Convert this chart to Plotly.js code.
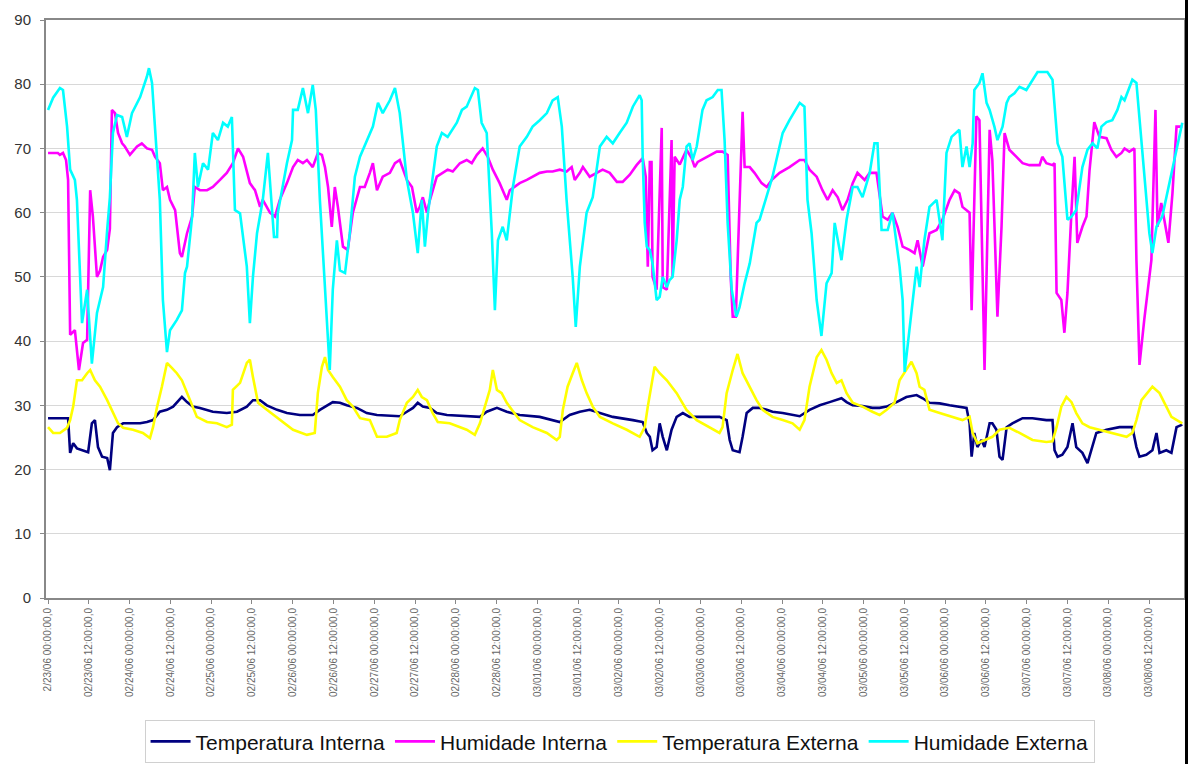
<!DOCTYPE html>
<html>
<head>
<meta charset="utf-8">
<script src="https://cdn.plot.ly/plotly-3.0.1.min.js"></script>
<style>
html,body{margin:0;padding:0;background:#fff;}
#chart{width:1188px;height:764px;}
#edge{position:absolute;top:0;right:0;width:3px;height:764px;background:#000;}
</style>
</head>
<body>
<div id="chart"></div>
<div id="edge"></div>
<script>
// x values are hours since 2/23/06 00:00
const tickHours = [0,12,24,36,48,60,72,84,96,108,120,132,144,156,168,180,192,204,216,228,240,252,264,276,288,300,312,324];
const tickLabels = [
"2/23/06 00:00:00,0","02/23/06 12:00:00,0","02/24/06 00:00:00,0","02/24/06 12:00:00,0",
"02/25/06 00:00:00,0","02/25/06 12:00:00,0","02/26/06 00:00:00,0","02/26/06 12:00:00,0",
"02/27/06 00:00:00,0","02/27/06 12:00:00,0","02/28/06 00:00:00,0","02/28/06 12:00:00,0",
"03/01/06 00:00:00,0","03/01/06 12:00:00,0","03/02/06 00:00:00,0","03/02/06 12:00:00,0",
"03/03/06 00:00:00,0","03/03/06 12:00:00,0","03/04/06 00:00:00,0","03/04/06 12:00:00,0",
"03/05/06 00:00:00,0","03/05/06 12:00:00,0","03/06/06 00:00:00,0","03/06/06 12:00:00,0",
"03/07/06 00:00:00,0","03/07/06 12:00:00,0","03/08/06 00:00:00,0","03/08/06 12:00:00,0"];

const seriesNames = ["Temperatura Interna","Humidade Interna","Temperatura Externa","Humidade Externa"];

// Temperatura Interna
const tiHours = [0,5.9,6.5,7.4,8.5,10.3,11.8,12.9,13.8,14.7,15.9,17.4,18.2,19.1,20.3,22.1,27.1,29.1,30.9,32.9,35,36.8,37.9,39.4,40.9,42.6,44.7,48.5,52.6,55.6,58.5,60.3,62.4,64.4,67.4,70.3,74.1,77.9,80,82.1,83.8,85.9,87.9,90.9,93.8,96.8,103.5,105.6,107.4,108.8,110.3,112.4,114.4,117.4,123.2,127.1,129.1,132.1,135,138.8,144.7,148.5,150.6,153.5,156.5,159.4,162.4,166.2,172.1,175,176.2,177.1,177.9,179.1,180,180.9,182.1,183.5,185,186.8,188.8,197.6,199.7,200.6,201.5,203.5,204.4,205.6,207.4,209.4,211.5,213.2,216.2,221.2,224.1,227.1,230,233.5,235,236.8,239.7,242.6,244.7,246.8,249.7,252.6,255.6,257.4,259.4,262.4,265.3,268.2,270.3,271.2,271.8,272.6,273.5,274.7,275.6,277.1,277.9,279.1,280,280.9,282.1,283.8,286.8,289.7,293.8,295.6,296.2,297.1,298.5,300,301.5,302.6,304.4,305.9,307.1,308.5,311.5,315.3,319.1,320.3,321.2,323.2,325,326.2,327.1,329.1,330.6,332.1,333.8];
const tiValues = [28,28,22.6,24.1,23.3,23,22.7,27.2,27.7,23.5,22,21.8,19.9,25.7,26.6,27.2,27.2,27.4,27.7,29,29.3,29.8,30.5,31.3,30.5,29.8,29.6,29,28.8,29,29.8,30.8,30.8,30,29.3,28.8,28.5,28.5,29.3,30,30.5,30.4,30,29.6,28.8,28.5,28.3,29,29.6,30.4,29.8,29.6,28.8,28.5,28.3,28.2,29,29.6,29,28.5,28.2,27.7,27.4,28.5,29,29.3,28.8,28.2,27.7,27.4,25.7,25.1,23,23.5,27.2,25.1,23,26.2,28.2,28.8,28.2,28.2,27.7,24.6,23,22.7,25.1,28.8,29.6,29.6,29.3,29,28.8,28.3,29.3,30,30.5,31.1,30.5,30,29.9,29.6,29.6,29.8,30.5,31.3,31.6,31.1,30.4,30.3,30,29.8,29.6,27.2,22,25.7,23.5,24.6,23.5,27.2,27.2,26.2,22,21.5,26.6,27.2,28,28,27.7,27.7,23,22,22.3,23.5,27.2,23.5,22.6,21,23,25.7,26.2,26.6,26.6,23.5,22,22.3,23,25.7,22.6,23,22.6,26.6,27];

// Humidade Interna
const hiHours = [0,2.9,3.5,4.4,5.3,5.9,6.5,7.9,9.1,10.3,11.5,12.4,13.2,14.4,15.3,16.2,17.4,18.2,18.8,19.7,20.6,21.8,22.6,24.1,26.2,27.6,29.1,30.6,31.5,32.9,33.8,35,35.9,37.4,38.8,39.4,40.9,42.4,43.2,44.7,46.8,48.5,50.6,52.6,54.4,55.9,57.4,59.4,60.9,62.4,63.2,65.3,66.8,68.2,70.3,72.1,73.5,75,76.2,77.9,79.4,80.6,81.5,82.4,83.5,84.4,85.3,86.8,88.2,89.7,91.8,93.2,94.7,95.6,96.8,98.5,100.6,102.1,103.5,105.6,107.1,108.5,109.4,110.3,111.5,112.4,114.4,116.2,117.6,119.1,121.2,123.2,124.7,126.2,127.9,129.4,130.9,132.9,133.8,135,135.9,137.4,138.8,140.9,142.6,144.7,146.8,148.5,150.6,152.6,154.1,155,156.5,157.4,159.4,161.5,163.2,165.3,167.4,169.1,171.2,173.2,175,175.9,176.5,177.1,177.6,177.9,179.1,180.6,180.9,182.1,183.5,183.8,184.4,185.9,186.8,187.9,189.4,190.3,191.2,193.8,196.8,198.5,200,200.9,201.5,202.4,204.4,205,206.5,207.9,209.4,210,211.5,213,215.3,218.2,221.2,222.6,224.1,226.2,227.9,229.4,230.9,232.4,233.8,235.3,236.8,238.2,240.3,241.8,243.8,245.6,247.1,248.5,250,251.5,253.5,255,255.9,257.4,259.4,261.5,263.2,265.3,266.8,268.2,269.1,270.3,271.2,271.8,272.4,273.2,274.1,275.6,277.1,277.9,279.4,280.6,281.5,282.9,285,286.8,288.8,291.8,292.6,293.8,295.6,296.2,296.8,298.2,299.1,300,301.2,302.1,302.9,304.4,305.6,306.5,307.9,309.4,311.5,312.9,314.4,315.9,316.8,318.2,319.7,320.3,321.2,322.6,324.7,325.9,326.5,327.6,328.5,329.7,330.9,332.1,333.8];
const hiValues = [69.3,69.3,69,69.3,68.2,65.1,41,41.7,35.5,39.7,40.2,63.5,59.4,50,51,53.1,54.2,57.5,76,75.5,72.4,70.8,70.3,69,70.3,70.8,70,69.8,68.7,67.7,63.5,64,62,60.4,53.7,53.1,56.8,59.4,64,63.5,63.5,64,65.1,66.2,67.7,70,68.7,64.6,63.5,60.9,62,60,59.4,62,64.6,67.1,68.2,67.7,68.2,67.1,69.3,69,67.1,64,57.8,64,60.9,54.7,54.2,60,64,64,66.2,67.7,63.5,65.6,66.2,67.7,68.2,65.1,64,60,60.9,62.4,60,62,65.6,66.2,66.7,66.4,67.7,68.2,67.7,69,70,68.7,66.7,64.6,63.5,62,63.5,64,64.6,65.1,65.6,66.2,66.4,66.4,66.7,66.4,67.1,65.1,66.2,67.1,65.6,66.2,66.7,66.2,64.8,64.8,65.9,67.4,68.5,65.6,51.6,67.9,67.9,50,48,73.2,48.4,48,71.3,50,68.7,67.5,68.5,69.8,68.5,67.1,67.9,68.7,69.5,69.5,69,50,43.8,43.8,75.7,67.1,67.1,66.2,65.1,64.6,64,65.1,66.2,67.1,68.2,68.2,66.7,65.6,63.5,62,63.5,62.4,60.4,62,64.6,66.2,65.1,66.2,66.2,59.4,58.9,60,57.8,54.7,54.2,53.7,55.7,51.6,56.8,57.3,58.9,62,63.5,63,60.9,60.4,60,44.8,60,75,74.4,35.5,72.9,68.2,43.8,57.8,72.4,69.8,68.7,67.7,67.4,67.4,68.7,67.7,67.4,67.7,47.5,46.4,41.3,47.5,60.4,68.7,55.3,57.8,59.4,66.6,74.1,71.8,71.6,69.8,68.7,69.3,70,69.5,70,52.6,36.3,43.3,52.6,76,57.8,61.5,58.9,55.3,63,73.4,73.4];

// Temperatura Externa
const teHours = [0,1.5,3.5,5.6,6.5,7.4,8.5,10,11.5,12.4,13.8,15.3,17.4,19.1,20.6,22.1,25,27.9,30,30.9,32.1,33.5,35,36.5,37.9,39.4,40.9,42.4,43.8,46.8,49.7,52.6,54.1,54.4,56.5,58.5,59.4,60.3,61.8,64.4,68.2,72.1,76.2,78.5,79.4,80.6,81.5,82.4,83.8,85.9,87.9,89.7,91.8,94.7,96.8,99.7,102.6,103.5,105.6,107.4,108.8,110,111.5,113.2,114.7,118.2,123.2,125.6,127.1,128.5,130,130.9,132.1,133.5,135,136.5,138.8,142.6,146.8,149.7,150.6,151.5,152.9,154.4,155.6,157.1,158.5,160.3,162.4,166.2,170.3,174.1,175.6,176.5,177.6,178.5,180,182.1,185,187.9,190.9,194.7,197.6,198.5,199.7,201.5,202.9,204.4,206.5,208.5,210.3,213.2,216.2,219.1,221.2,222.6,224.1,226.2,227.6,229.1,230.6,232.1,233.5,235,236.8,239.7,242.6,244.7,246.8,249.1,250.6,252.6,254.1,255.6,256.5,257.9,259.4,262.4,266.2,269.1,271.2,272.1,273.5,275.6,277.9,280,282.9,285.9,289.7,293.8,295.6,296.8,298.2,299.7,301.2,302.6,304.4,306.5,309.4,313.2,317.4,319.1,320.3,321.8,325,327.1,329.1,330.6,333.8];
const teValues = [26.6,25.7,25.7,26.5,27.7,29.8,33.9,33.9,35,35.5,33.9,32.9,30.8,28.8,27.2,26.5,26.2,25.7,24.9,26.6,29.8,32.9,36.6,35.8,35,33.9,31.9,29.8,28.2,27.4,27.2,26.6,27,32.4,33.5,36.6,37.1,34.4,30.4,29.3,27.7,26.2,25.4,25.7,31.9,36,37.5,35.5,34.4,32.9,30.8,29.8,28,27.7,25.1,25.1,25.7,27.7,30.4,31.3,32.4,31.3,30.8,28.8,27.4,27.2,26.2,25.4,27.2,29.8,32.4,35.5,32.4,31.9,30.4,29.3,27.7,26.6,25.7,24.6,25.1,29.3,32.9,35,36.6,33.9,31.9,29.8,28.2,27.2,26.2,25.1,26.6,29.8,32.9,36,35,33.9,31.9,29.3,27.7,26.6,25.7,26.6,31.9,35.5,38,35,32.9,30.8,29.3,28.2,27.7,27.2,26.2,27.7,32.9,37.5,38.6,37.1,35,33.5,33.9,31.9,30.4,29.8,29,28.5,29.3,30.4,33.9,35.5,36.8,35,32.9,32.4,29.3,28.8,28.2,27.7,28.2,25.7,24.1,24.6,25.1,26.2,26.5,25.7,24.6,24.3,24.4,26.6,29.8,31.3,30.5,28.8,27.2,26.6,26.2,25.7,25.1,25.7,27.7,30.8,32.9,31.9,29.8,28.2,27.2];

// Humidade Externa
const heHours = [0,1.5,3.5,4.4,5.6,6.5,7.9,8.5,10,11.5,12.9,14.4,15.3,16.2,17.4,18.2,19.1,20.3,21.8,23.2,24.7,27.1,29.1,29.7,30.6,32.1,32.9,33.8,35,35.9,37.9,39.4,40.3,40.9,42.4,43.2,44.1,45.6,47.1,48.5,50,51.5,52.9,54.1,55,56.5,58.5,59.4,60.3,61.5,63.2,64.7,65.9,66.5,67.4,67.6,70.3,71.8,72.1,73.5,75,76.5,77.9,78.8,80,81.5,82.9,83.8,85,85.9,87.4,88.8,90.3,91.8,93.8,95.6,97.1,98.5,100.6,102.1,103.5,105.6,107.4,108.8,110,110.9,111.8,114.4,115.9,117.6,120.3,121.8,123.2,124.1,125.6,126.5,127.6,129.1,130.6,131.5,132.4,133.8,135,136.8,138.8,140.9,142.6,144.7,146.8,148.5,150,151.2,152.6,154.4,155.3,156.5,158.5,160.3,162.4,164.4,166.2,168.2,170.3,172.1,174.1,174.7,175,175.6,176.2,177.1,177.9,179.1,180,180.9,182.1,182.9,183.8,185,185.9,186.8,187.9,188.8,189.7,190.9,191.8,192.6,193.8,195.6,197.1,198.2,199.1,200,201.2,202.6,203.5,205,206.5,208.5,209.4,211.5,213.2,216.2,218.2,221.2,222.6,223.5,224.7,226.2,227.6,229.1,230.6,231.5,233.5,235,236.8,238.2,239.7,241.8,243.2,244.1,245.3,247.1,248.5,250.6,251.5,252.1,254.4,255.6,256.5,257.9,259.4,261.5,263.2,264.4,265.9,268.2,269.1,270.3,271.2,272.1,272.6,274.1,275,276.2,277.1,278.5,279.4,280.9,282.1,282.9,284.4,285.9,287.9,289.7,291.2,294.1,295.6,297.1,298.5,300,301.2,302.6,304.4,305.9,307.4,308.8,310,311.5,313.2,314.7,315.9,316.8,318.2,319.1,320.3,321.8,323.2,324.1,325,326.2,327.9,330,332.1,333.8];
const heValues = [76,77.9,79.4,79.1,73.4,66.7,65.1,62,42.8,48,36.5,44.4,46.4,48.4,57.3,62.4,72.4,75.2,74.9,71.8,75.5,78,81.2,82.5,80.2,67.1,62,46.4,38.3,41.7,43.3,44.8,50.6,51.6,59.4,69.3,64,67.7,66.7,72.4,71.3,74,73.4,74.9,60.4,59.9,51.6,42.8,50,56.8,62,69.3,60.9,56.2,56.2,59.9,67.7,71.3,76,76,79.4,75.5,79.9,76,62,49,35.5,48,55.7,51,50.6,56.8,65.6,68.7,71.3,73.4,77.1,75.5,77.5,79.4,75.5,65.1,59.9,53.7,62,54.7,59.9,70.3,72.4,71.8,74,76,76.5,77.5,79.4,79.1,74,72.4,56.8,44.8,55.7,57.8,55.7,64,70.3,71.8,73.4,74.4,75.5,77.5,78,73.4,62,50,42.2,51.6,60,62.4,70.3,71.8,70.8,72.4,74,76.5,78.3,77.5,68.7,58.4,54.7,54.2,52.1,46.4,46.9,50,48.4,49.5,50,55.7,62,64,70.3,70.8,68.2,70.3,73.4,76,77.5,78,79.1,79.1,71.3,58.4,48,43.8,45.3,49,52.1,58.4,58.9,62.4,65.6,72.4,74.4,77.1,76.5,62,56.8,46.4,40.8,49,50.6,58.4,52.6,58.9,64,64,62.4,66.2,70.8,70.8,57.3,57.3,60,51.6,46.4,35.2,46.4,51.6,48.4,55.7,60.9,62,55.7,69.3,71.8,72.9,67.1,70.3,67.1,70.8,79.1,80.2,81.7,77.1,76,73.4,71.3,73.4,77.1,78,78.6,79.6,79.1,80.7,81.9,81.9,80.7,70.8,68.7,58.9,59.4,60.4,67.1,69.8,70.8,70,73.4,74.1,74.4,76,78,77.5,79.6,80.7,80.2,70.8,63,56.8,53.7,57.8,59.4,64.6,69.3,74];

const colors = ["#000080","#FF00FF","#FFFF00","#00FFFF"];
const xs = [tiHours, hiHours, teHours, heHours];
const ys = [tiValues, hiValues, teValues, heValues];

const traces = seriesNames.map((n, i) => ({
  type: "scatter", mode: "lines", name: n,
  x: xs[i], y: ys[i],
  line: {color: colors[i], width: 2.6}
}));

const layout = {
  width: 1188, height: 764,
  margin: {l: 46, r: 4, t: 20, b: 166, autoexpand: false},
  paper_bgcolor: "#ffffff", plot_bgcolor: "#ffffff",
  font: {family: "Arial, 'Liberation Sans', sans-serif", color: "#333"},
  showlegend: true,
  legend: {
    orientation: "h", x: 0.504, xanchor: "center",
    yref: "container", y: 0.001, yanchor: "bottom",
    font: {size: 21, color: "#111"}, bordercolor: "#d0d0d0", borderwidth: 1,
    bgcolor: "#ffffff", itemwidth: 40, tracegroupgap: 0
  },
  xaxis: {
    range: [-0.6, 334.3], tickmode: "array", tickvals: tickHours, ticktext: tickLabels,
    tickangle: -90, tickfont: {size: 10, color: "#666"},
    showgrid: false, zeroline: false, showline: true, linecolor: "#888", linewidth: 2,
    mirror: true, ticks: "outside", ticklen: 4, tickcolor: "#888", automargin: false
  },
  yaxis: {
    range: [0, 90], dtick: 10, tickfont: {size: 15, color: "#333"},
    ticklabelstandoff: 6, automargin: false,
    showgrid: true, gridcolor: "#d8d8d8", gridwidth: 1, zeroline: false,
    showline: true, linecolor: "#888", linewidth: 2, mirror: true,
    ticks: "outside", ticklen: 4, tickcolor: "#888"
  }
};

Plotly.newPlot("chart", traces, layout, {displayModeBar: false, staticPlot: true});
</script>
</body>
</html>
